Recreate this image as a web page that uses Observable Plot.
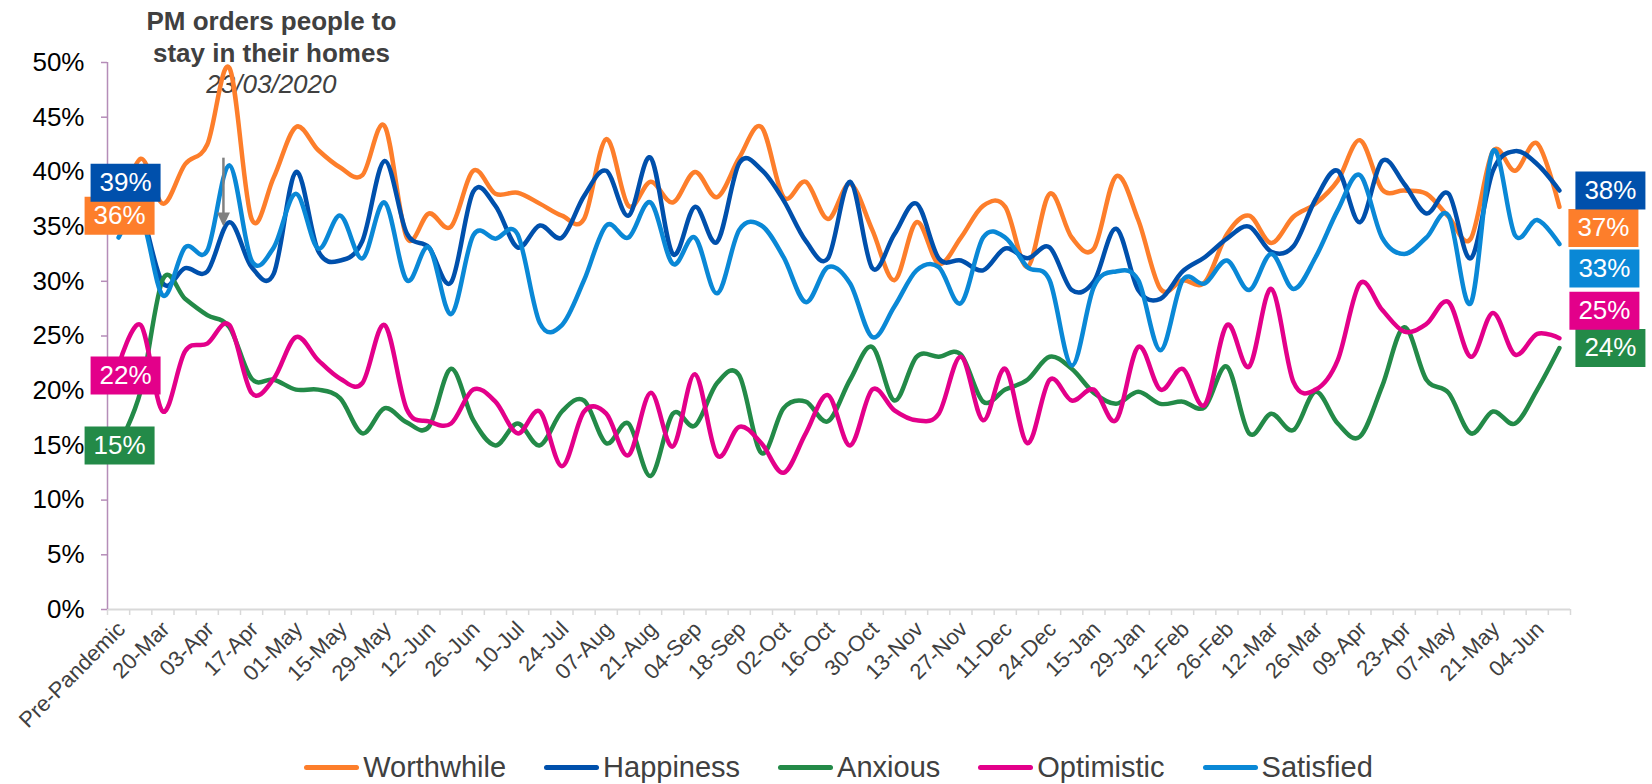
<!DOCTYPE html>
<html>
<head>
<meta charset="utf-8">
<script src="https://cdn.jsdelivr.net/npm/d3@7"></script>
<script src="https://cdn.jsdelivr.net/npm/@observablehq/plot@0.6"></script>
<style>
  html, body { margin: 0; padding: 0; background: #fff; width: 1652px; height: 784px; overflow: hidden;
    font-family: "Liberation Sans", Arial, sans-serif; }
  #legend { display: flex; justify-content: center; align-items: center; margin-left: 107px; width: 1463px;
    height: 54px; gap: 38px; }
  .item { display: flex; align-items: center; font-size: 29px; color: #404040; white-space: nowrap; }
  .sw { width: 55px; height: 5px; border-radius: 3px; margin-right: 4px; }
</style>
</head>
<body>
<div id="chart"></div>
<div id="legend"></div>
<script>
// ---------------- data ----------------
const tickLabels = ["Pre-Pandemic","20-Mar","03-Apr","17-Apr","01-May","15-May","29-May","12-Jun","26-Jun",
  "10-Jul","24-Jul","07-Aug","21-Aug","04-Sep","18-Sep","02-Oct","16-Oct","30-Oct","13-Nov","27-Nov","11-Dec",
  "24-Dec","15-Jan","29-Jan","12-Feb","26-Feb","12-Mar","26-Mar","09-Apr","23-Apr","07-May","21-May","04-Jun"];

const seriesNames = ["Worthwhile", "Happiness", "Anxious", "Optimistic", "Satisfied"];

const worthwhile = [36, 41.2, 37.1, 40.7, 42.5, 49.5, 35.7, 39.5, 44.1, 42.0, 40.4, 39.7, 44.2, 34.0, 36.2, 35.0,
  40.1, 38.0, 38.1, 37.1, 36.0, 35.7, 43.0, 36.9, 39.1, 37.2, 40.0, 37.7, 41.3, 44.1, 37.7, 39.1, 35.7, 38.9, 34.7,
  30.1, 35.4, 31.6, 34.0, 36.9, 36.8, 31.3, 38.0, 34.0, 33.0, 39.6, 35.6, 29.3, 30.1, 29.9, 34.3, 36.0, 33.5, 35.9,
  37.1, 39.2, 42.9, 38.4, 38.3, 38.0, 35.9, 33.9, 41.9, 40.1, 42.6, 36.8];

const happiness = [39, 36.5, 29.8, 31.2, 30.9, 35.4, 31.3, 30.7, 40.0, 32.8, 31.9, 33.7, 41.0, 34.4, 33.1, 29.9,
  38.2, 36.9, 33.1, 35.1, 34.0, 37.8, 40.1, 36.0, 41.3, 32.5, 36.8, 33.6, 40.8, 40.2, 37.4, 33.7, 32.1, 39.1, 31.2,
  34.3, 37.1, 32.1, 31.9, 31.0, 33.0, 32.1, 33.1, 29.2, 30.0, 34.8, 29.2, 28.4, 30.9, 32.2, 33.9, 35.0, 32.7, 33.2,
  37.5, 40.1, 35.4, 41.0, 38.9, 36.2, 38.0, 32.1, 40.1, 41.9, 40.7, 38.3];

const anxious = [15, 20, 30.2, 28.4, 26.9, 25.8, 21.1, 21.0, 20.1, 20.1, 19.3, 16.1, 18.4, 17.1, 16.7, 22.0,
  17.3, 15.0, 17.0, 15.0, 18.1, 19.1, 15.2, 17.0, 12.2, 17.9, 16.8, 20.7, 21.4, 14.3, 18.4, 19.0, 17.2, 21.0, 24.0,
  19.1, 23.1, 23.1, 23.3, 19.0, 20.1, 21.0, 23.1, 22.0, 19.8, 18.8, 19.9, 18.8, 19.0, 18.5, 22.2, 16.1, 17.9, 16.4,
  19.9, 17.0, 15.8, 20.4, 25.8, 21.0, 19.8, 16.1, 18.1, 17.0, 20.1, 23.9];

const optimistic = [22.3, 26.0, 18.1, 23.6, 24.3, 26.0, 19.8, 21.1, 24.9, 22.8, 21.1, 20.7, 26.0, 18.3, 17.2, 17.0,
  20.1, 19.0, 16.1, 18.1, 13.1, 18.1, 17.9, 14.1, 19.8, 14.9, 21.5, 14.1, 16.7, 15.2, 12.5, 16.1, 19.6, 15.0, 20.1,
  18.2, 17.3, 17.9, 23.1, 17.3, 22.0, 15.2, 21.0, 19.1, 20.1, 17.3, 24.0, 20.1, 22.0, 18.7, 26.0, 22.2, 29.3, 20.8,
  20.1, 22.8, 29.8, 27.4, 25.4, 26.1, 28.1, 23.1, 27.1, 23.3, 25.2, 24.8];

const satisfied = [34, 36, 28.7, 33.1, 32.8, 40.6, 31.9, 33.1, 38.0, 33.0, 36.0, 32.1, 37.2, 30.1, 33.1, 27.0,
  34.2, 33.9, 34.3, 26.2, 26.0, 30.1, 35.1, 34.0, 37.2, 31.6, 34.0, 28.9, 34.7, 35.1, 32.2, 28.1, 31.3, 29.8, 24.9,
  27.7, 31.0, 31.3, 28.0, 34.0, 34.0, 31.3, 30.1, 22.3, 29.5, 30.9, 30.1, 23.7, 30.1, 29.8, 31.9, 29.2, 32.5, 29.3,
  32.2, 36.5, 39.7, 34.0, 32.5, 34.0, 36.0, 28.0, 41.9, 34.2, 35.6, 33.4];

const yTicks = [0, 5, 10, 15, 20, 25, 30, 35, 40, 45, 50];

// annotation (lockdown) in data units
const annotationLines = "PM orders people to\nstay in their homes";
const annotationDate = "23/03/2020";
const lockdown = {i: 4.73, top: 41.3, tip: 35.0, textY: 50};

// ---------------- styling ----------------
const seriesColors = ["#fd7e2b", "#0050ac", "#238a48", "#e3008a", "#0a88d6"];
const purple = "#b58db8";
const labelNudge = {
  left:  {Worthwhile: [1, 0], Happiness: [7, 0], Anxious: [1, 0], Optimistic: [7, 10]},
  right: {Worthwhile: [44, 21], Happiness: [51, 0], Anxious: [51, 0], Optimistic: [45, -27.5], Satisfied: [45, 24.5]}
};

// ---------------- build ----------------
const seriesValues = [worthwhile, happiness, anxious, optimistic, satisfied];
const rows = seriesNames.flatMap((s, k) => seriesValues[k].map((v, i) => ({series: s, i, value: v})));
const nCat = worthwhile.length;
const boundaries = d3.range(nCat + 1).map(k => k - 0.5);
const labelIdx = tickLabels.map((_, k) => 2 * k);

const rectSymbol = {draw(ctx) { ctx.rect(-35, -19, 70, 38); }};
const downTriangle = {draw(ctx) { ctx.moveTo(-6.5, -14); ctx.lineTo(6.5, -14); ctx.lineTo(0, 0); ctx.closePath(); }};

const endLabelMarks = [];
for (const side of ["left", "right"]) {
  for (const [name, [dx, dy]] of Object.entries(labelNudge[side])) {
    const k = seriesNames.indexOf(name);
    const vals = seriesValues[k];
    const i = side === "left" ? 0 : vals.length - 1;
    const row = {i, value: vals[i]};
    endLabelMarks.push(
      Plot.dot([row], {x: "i", y: "value", symbol: rectSymbol, fill: seriesColors[k], stroke: "none", dx, dy}),
      Plot.text([row], {x: "i", y: "value", text: d => Math.round(d.value) + "%", fill: "white",
        fontSize: 26, dx, dy})
    );
  }
}

const chart = Plot.plot({
  width: 1652,
  height: 740,
  marginLeft: 107,
  marginRight: 82,
  marginTop: 62,
  marginBottom: 131,
  style: {fontFamily: "'Liberation Sans', Arial, sans-serif", background: "#fff", overflow: "visible"},
  x: {domain: [-0.5, nCat - 0.5], label: null},
  y: {domain: [0, 50], label: null},
  color: {domain: seriesNames, range: seriesColors},
  marks: [
    Plot.ruleY([0], {stroke: "#d9d9d9", strokeWidth: 2}),
    Plot.axisX({ticks: boundaries, tickSize: 6, stroke: "#d9d9d9", strokeWidth: 1.5, fill: "none", label: null}),
    Plot.axisX({ticks: labelIdx, tickFormat: i => tickLabels[i / 2], tickSize: 0, tickRotate: -45,
      textAnchor: "end", lineAnchor: "middle", tickPadding: 16, dx: 3, fontSize: 22, fill: "#404040", label: null}),
    Plot.ruleX([-0.5], {stroke: purple, strokeWidth: 1.5}),
    Plot.axisY({ticks: yTicks, tickFormat: d => d + "%", tickSize: 6, tickPadding: 17, stroke: purple,
      strokeWidth: 1.5, fill: "#000", fontSize: 26, label: null}),
    Plot.text([lockdown], {x: "i", y: "textY", text: () => annotationLines, fontWeight: "bold", fontSize: 26,
      fill: "#404040", dx: 48, dy: -26.5, lineHeight: 1.2, lineAnchor: "middle"}),
    Plot.text([lockdown], {x: "i", y: "textY", text: () => annotationDate, fontStyle: "italic", fontSize: 26,
      fill: "#404040", dx: 48, dy: 22, lineAnchor: "middle"}),
    Plot.line(rows, {x: "i", y: "value", z: "series", stroke: "series", strokeWidth: 4.5,
      curve: "cardinal", tension: 0, strokeLinecap: "round", strokeLinejoin: "round"}),
    Plot.link([lockdown], {x1: "i", x2: "i", y1: "top", y2: d => d.tip + 1.2, stroke: "#808080", strokeWidth: 2.5}),
    Plot.dot([lockdown], {x: "i", y: "tip", symbol: downTriangle, fill: "#808080", stroke: "none"}),
    ...endLabelMarks
  ]
});
document.getElementById("chart").append(chart);

// legend
const legend = document.getElementById("legend");
seriesNames.forEach((s, k) => {
  const item = document.createElement("div");
  item.className = "item";
  const sw = document.createElement("span");
  sw.className = "sw";
  sw.style.background = seriesColors[k];
  item.append(sw, document.createTextNode(s));
  legend.append(item);
});
</script>
</body>
</html>
